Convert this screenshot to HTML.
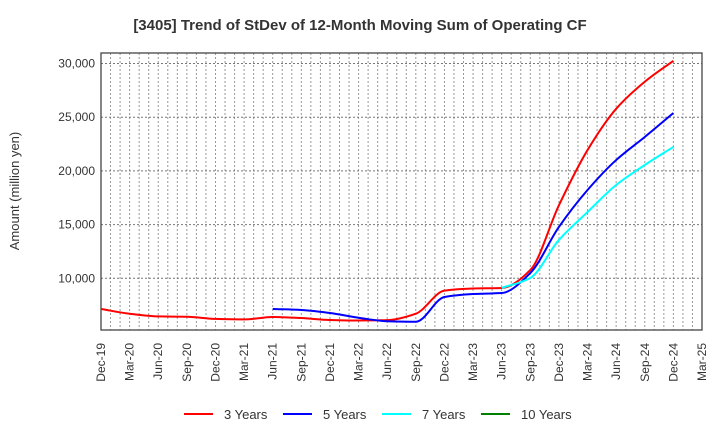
<!DOCTYPE html>
<html><head><meta charset="utf-8"><style>
body{margin:0;background:#fff;font-family:"Liberation Sans",Arial,sans-serif}
</style></head><body>
<svg id="chart" width="720" height="440" xmlns="http://www.w3.org/2000/svg">
<text x="360" y="30" text-anchor="middle" font-size="15" font-weight="bold" fill="#333">[3405]  Trend of StDev of 12-Month Moving Sum of Operating CF</text>
<text transform="translate(19,191) rotate(-90)" text-anchor="middle" font-size="13" fill="#333">Amount (million yen)</text>
<g id="grid"></g><g id="axes"></g><g id="series"></g><g id="legend"></g>
</svg>
<script>
const xLabels=["Dec-19","Mar-20","Jun-20","Sep-20","Dec-20","Mar-21","Jun-21","Sep-21","Dec-21","Mar-22","Jun-22","Sep-22","Dec-22","Mar-23","Jun-23","Sep-23","Dec-23","Mar-24","Jun-24","Sep-24","Dec-24","Mar-25"];
const yTicks=[10000,15000,20000,25000,30000];
const yTickLabels=["10,000","15,000","20,000","25,000","30,000"];
const seriesNames=["3 Years","5 Years","7 Years","10 Years"];
const seriesColors=["#ff0000","#0000ff","#00ffff","#008000"];
const seriesStart=[0,6,14,0];
const s3=[7140,6700,6450,6420,6220,6170,6400,6300,6120,6070,6100,6700,8850,9050,9100,10770,16800,21940,25780,28300,30250];
const s5=[7140,7050,6770,6330,6000,5950,8260,8540,8630,10490,14780,18220,21010,23160,25390];
const s7=[9100,10030,13570,16170,18690,20550,22230];
const s10=[];
const allSeries=[s3,s5,s7,s10];
const L=101,R=702,T=53,B=330;
const NS="http://www.w3.org/2000/svg";
function X(i){return L+i*3*(R-L)/63;}
function Y(v){return 278.3-(v-10000)*53.7/5000;}
function mk(tag,attrs,parent){const e=document.createElementNS(NS,tag);for(const k in attrs)e.setAttribute(k,attrs[k]);parent.appendChild(e);return e;}
const grid=document.getElementById('grid'),axes=document.getElementById('axes'),ser=document.getElementById('series'),leg=document.getElementById('legend');
for(let m=1;m<63;m++){const x=L+m*(R-L)/63;
const g=mk('line',{x1:x,x2:x,y1:T,y2:B,stroke:'#999','stroke-dasharray':'2,2','stroke-width':1},grid);

}
yTicks.forEach((v,i)=>{const y=Y(v);
const g=mk('line',{x1:L,x2:R,y1:y,y2:y,stroke:'#777','stroke-dasharray':'2,2','stroke-width':1},grid);


const t=mk('text',{x:L-6,y:y+4,'text-anchor':'end','font-size':12,fill:'#333'},axes);t.textContent=yTickLabels[i];

});
const box=mk('rect',{x:L,y:T,width:R-L,height:B-T,fill:'none',stroke:'#444','stroke-width':1.3},axes);


xLabels.forEach((lab,i)=>{const x=X(i);
const t=mk('text',{transform:`translate(${x+4},343) rotate(-90)`,'text-anchor':'end','font-size':12,fill:'#333'},axes);t.textContent=lab;

});
function path(pts){const n=pts.length;
const d=[],m=[];
for(let i=0;i<n-1;i++)d.push((pts[i+1][1]-pts[i][1])/(pts[i+1][0]-pts[i][0]));
for(let i=0;i<n;i++){
 if(i===0)m.push(d[0]);else if(i===n-1)m.push(d[n-2]);
 else if(d[i-1]*d[i]<=0)m.push(0);else m.push(2/(1/d[i-1]+1/d[i]));}
let s=`M${pts[0][0]},${pts[0][1]}`;
for(let i=0;i<n-1;i++){const h=(pts[i+1][0]-pts[i][0])/3;
s+=` C${pts[i][0]+h},${pts[i][1]+m[i]*h} ${pts[i+1][0]-h},${pts[i+1][1]-m[i+1]*h} ${pts[i+1][0]},${pts[i+1][1]}`;}
return s;}
allSeries.forEach((s,k)=>{if(!s.length)return;
const pts=s.map((v,i)=>[X(i+seriesStart[k]),Y(v)]);
const p=mk('path',{d:path(pts),fill:'none',stroke:seriesColors[k],'stroke-width':2},ser);

});
const lx=[184,283,382,481];
seriesNames.forEach((n,k)=>{
const g=mk('g',{},leg);


mk('line',{x1:lx[k],x2:lx[k]+29,y1:414,y2:414,stroke:seriesColors[k],'stroke-width':2},g);
const t=mk('text',{x:lx[k]+40,y:419,'font-size':13,fill:'#333'},g);t.textContent=n;});
</script>
</body></html>
